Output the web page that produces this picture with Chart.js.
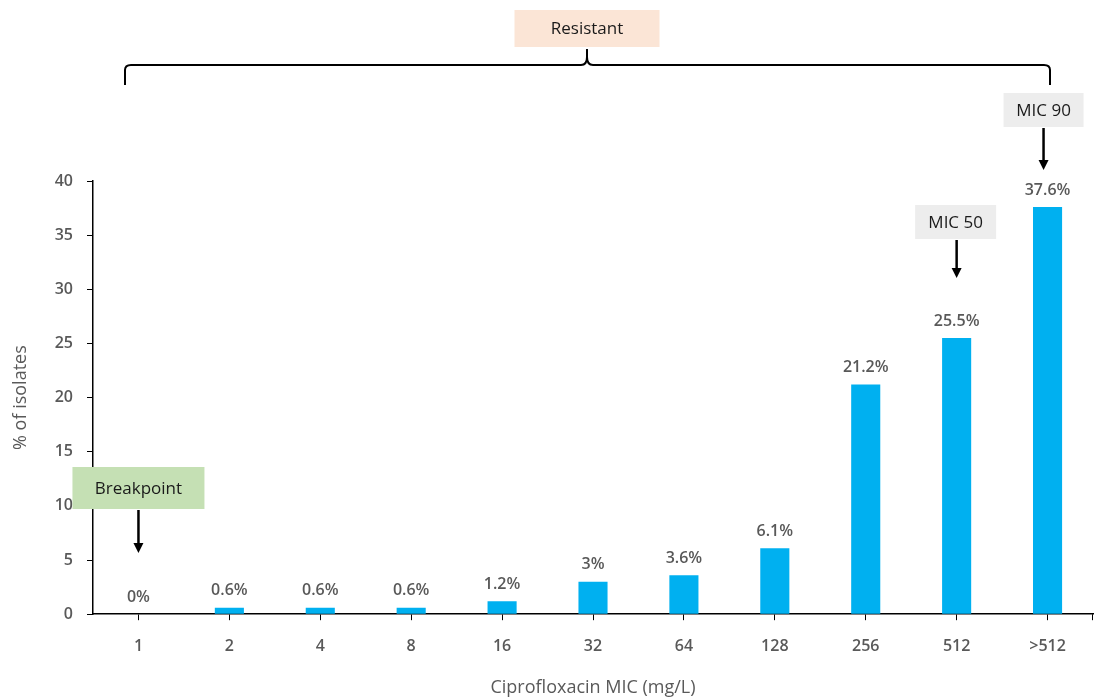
<!DOCTYPE html>
<html lang="en">
<head>
<meta charset="UTF-8">
<title>Ciprofloxacin MIC</title>
<script src="https://cdn.jsdelivr.net/npm/chart.js@4.4.1/dist/chart.umd.min.js"></script>
<style>
  html, body { margin: 0; padding: 0; background: #fff; }
  #wrap { width: 1094px; height: 699px; position: relative; }
</style>
</head>
<body>
<div id="wrap"><canvas id="myChart" width="1094" height="699"></canvas></div>
<script>
// data
const micLabels = ['1', '2', '4', '8', '16', '32', '64', '128', '256', '512', '>512'];
const percentIsolates = [0, 0.6, 0.6, 0.6, 1.2, 3, 3.6, 6.1, 21.2, 25.5, 37.6];
const valueLabels = ['0%', '0.6%', '0.6%', '0.6%', '1.2%', '3%', '3.6%', '6.1%', '21.2%', '25.5%', '37.6%'];
const yTicks = [0, 5, 10, 15, 20, 25, 30, 35, 40];

const FONT = '"Open Sans", "DejaVu Sans", sans-serif';
const GREY = '#595959';

// bar value labels + callout boxes + brace
const annotations = {
    id: 'annotations',
    afterDatasetsDraw(chart) {
        const ctx = chart.ctx;
        const xs = chart.scales.x;
        const ys = chart.scales.y;
        ctx.save();

        // value labels above bars
        ctx.font = '600 16px ' + FONT;
        ctx.fillStyle = GREY;
        ctx.textAlign = 'center';
        ctx.textBaseline = 'middle';
        percentIsolates.forEach(function(v, i) {
            ctx.fillText(valueLabels[i], xs.getPixelForValue(i), ys.getPixelForValue(v) - 17);
        });

        function box(cx, top, w, h, fill, text) {
            ctx.fillStyle = fill;
            ctx.fillRect(cx - w / 2, top, w, h);
            ctx.fillStyle = '#1a1a1a';
            ctx.font = '17px ' + FONT;
            ctx.textAlign = 'center';
            ctx.textBaseline = 'middle';
            ctx.fillText(text, cx, top + h / 2 + 1);
        }
        function arrow(x, y1, y2) {
            ctx.strokeStyle = '#000';
            ctx.lineWidth = 2.5;
            ctx.beginPath();
            ctx.moveTo(x, y1);
            ctx.lineTo(x, y2 - 8);
            ctx.stroke();
            ctx.fillStyle = '#000';
            ctx.beginPath();
            ctx.moveTo(x - 5, y2 - 10);
            ctx.lineTo(x + 5, y2 - 10);
            ctx.lineTo(x, y2);
            ctx.closePath();
            ctx.fill();
        }

        const x1 = xs.getPixelForValue(0);
        const x50 = xs.getPixelForValue(9);
        const x90 = xs.getPixelForValue(10);

        // Breakpoint
        box(x1, 467, 132, 42, '#C5E0B4', 'Breakpoint');
        arrow(x1, 510, 553);
        // MIC 50
        box(x50 - 1, 205, 81, 34, '#EDEDED', 'MIC 50');
        arrow(x50, 240, 278);
        // MIC 90
        box(x90 - 4, 93, 80, 34, '#EDEDED', 'MIC 90');
        arrow(x90 - 4, 128, 170);

        // brace
        const bl = 125, br = 1050, mid = 587;
        ctx.strokeStyle = '#000';
        ctx.lineWidth = 2;
        ctx.beginPath();
        ctx.moveTo(bl, 85);
        ctx.lineTo(bl, 70);
        ctx.quadraticCurveTo(bl, 65, bl + 6, 65);
        ctx.lineTo(mid - 6, 65);
        ctx.quadraticCurveTo(mid, 65, mid, 57);
        ctx.lineTo(mid, 49);
        ctx.moveTo(mid, 57);
        ctx.quadraticCurveTo(mid, 65, mid + 6, 65);
        ctx.lineTo(br - 6, 65);
        ctx.quadraticCurveTo(br, 65, br, 70);
        ctx.lineTo(br, 85);
        ctx.stroke();

        // Resistant
        box(mid, 10, 145, 37, '#FBE5D6', 'Resistant');

        // tick at the right end of the x axis
        ctx.strokeStyle = '#000';
        ctx.lineWidth = 1;
        ctx.beginPath();
        ctx.moveTo(chart.chartArea.right - 0.5, ys.bottom);
        ctx.lineTo(chart.chartArea.right - 0.5, ys.bottom + 6);
        ctx.stroke();

        ctx.restore();
    }
};

const ctx = document.getElementById('myChart').getContext('2d');
const myChart = new Chart(ctx, {
    type: 'bar',
    data: {
        labels: micLabels,
        datasets: [{
            label: '% of isolates',
            data: percentIsolates,
            backgroundColor: '#00B0F0',
            borderWidth: 0,
            categoryPercentage: 1,
            barPercentage: 0.32
        }]
    },
    options: {
        responsive: false,
        animation: false,
        layout: { padding: { top: 181, right: 1, left: 0, bottom: 0 } },
        plugins: {
            legend: { display: false },
            tooltip: { enabled: false }
        },
        scales: {
            x: {
                grid: {
                    display: true,
                    drawOnChartArea: false,
                    drawTicks: true,
                    offset: false,
                    tickLength: 6,
                    color: '#000'
                },
                border: { display: true, color: '#000', width: 1.5 },
                ticks: {
                    color: GREY,
                    font: { family: FONT, size: 16, weight: '600' },
                    padding: 17,
                    maxRotation: 0
                },
                title: {
                    display: true,
                    text: 'Ciprofloxacin MIC (mg/L)',
                    color: GREY,
                    font: { family: FONT, size: 18 },
                    padding: { top: 4, bottom: 0 }
                }
            },
            y: {
                min: 0,
                max: 40,
                afterBuildTicks: function(axis) {
                    axis.ticks = yTicks.map(function(v) { return { value: v }; });
                },
                afterFit: function(axis) { axis.width = 93; },
                grid: {
                    display: true,
                    drawOnChartArea: false,
                    drawTicks: true,
                    tickLength: 6,
                    color: '#000'
                },
                border: { display: true, color: '#000', width: 1.5 },
                ticks: {
                    color: GREY,
                    font: { family: FONT, size: 16, weight: '600' },
                    padding: 14
                },
                title: {
                    display: true,
                    text: '% of isolates',
                    color: GREY,
                    font: { family: FONT, size: 18 },
                    padding: { top: 10, bottom: 4 }
                }
            }
        }
    },
    plugins: [annotations]
});
</script>
</body>
</html>
